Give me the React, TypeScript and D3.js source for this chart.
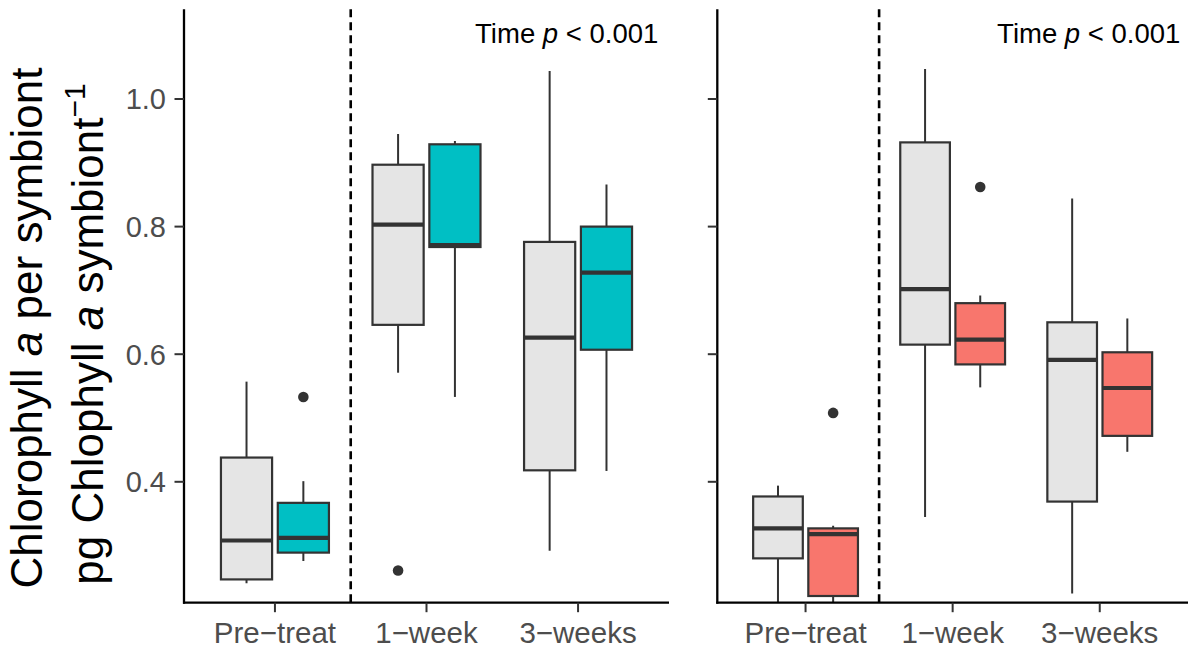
import React from "react";
import * as d3 from "d3";

// ---------- data ----------
const TIMES = ["Pre\u2212treat", "1\u2212week", "3\u2212weeks"];
const Y_TICKS = [0.4, 0.6, 0.8, 1.0];
const Y_DOMAIN = [0.2105, 1.1406];

// box statistics: lower whisker, q1, median, q3, upper whisker, outliers
const leftControl = [
  { lower: 0.241, q1: 0.247, median: 0.308, q3: 0.438, upper: 0.557, outliers: [] as number[] },
  { lower: 0.571, q1: 0.646, median: 0.803, q3: 0.897, upper: 0.945, outliers: [0.261] },
  { lower: 0.292, q1: 0.418, median: 0.626, q3: 0.776, upper: 1.044, outliers: [] as number[] },
];
const leftTreatment = [
  { lower: 0.276, q1: 0.289, median: 0.312, q3: 0.367, upper: 0.401, outliers: [0.533] },
  { lower: 0.533, q1: 0.768, median: 0.771, q3: 0.929, upper: 0.934, outliers: [] as number[] },
  { lower: 0.417, q1: 0.607, median: 0.728, q3: 0.800, upper: 0.866, outliers: [] as number[] },
];
const rightControl = [
  { lower: 0.195, q1: 0.280, median: 0.327, q3: 0.377, upper: 0.394, outliers: [] as number[] },
  { lower: 0.345, q1: 0.615, median: 0.702, q3: 0.932, upper: 1.047, outliers: [] as number[] },
  { lower: 0.225, q1: 0.369, median: 0.591, q3: 0.650, upper: 0.844, outliers: [] as number[] },
];
const rightTreatment = [
  { lower: 0.195, q1: 0.221, median: 0.318, q3: 0.327, upper: 0.331, outliers: [0.508] },
  { lower: 0.548, q1: 0.584, median: 0.623, q3: 0.680, upper: 0.692, outliers: [0.862] },
  { lower: 0.447, q1: 0.472, median: 0.547, q3: 0.603, upper: 0.656, outliers: [] as number[] },
];

// ---------- layout / style ----------
const W = 1189;
const H = 649;
const PLOT_TOP = 9.3;
const PLOT_BOTTOM = 602.7;
const FONT = "'Liberation Sans', Arial, Helvetica, sans-serif";
const CONTROL_FILL = "#E5E5E5";
const OUTLINE = "#333333";

const panels = [
  { id: "L", x0: 184, x1: 669, control: leftControl, treat: leftTreatment, fill: "#00BFC4", labels: true },
  { id: "R", x0: 717.3, x1: 1188, control: rightControl, treat: rightTreatment, fill: "#F8766D", labels: false },
];

const y = d3.scaleLinear().domain(Y_DOMAIN).range([PLOT_BOTTOM, PLOT_TOP]);

type Stat = { lower: number; q1: number; median: number; q3: number; upper: number; outliers: number[] };

function Box({ cx, w, s, fill }: { cx: number; w: number; s: Stat; fill: string }) {
  return (
    <g>
      <line x1={cx} x2={cx} y1={y(s.upper)} y2={y(s.q3)} stroke={OUTLINE} strokeWidth={2} />
      <line x1={cx} x2={cx} y1={y(s.q1)} y2={y(s.lower)} stroke={OUTLINE} strokeWidth={2} />
      <rect x={cx - w / 2} y={y(s.q3)} width={w} height={y(s.q1) - y(s.q3)} fill={fill} stroke={OUTLINE} strokeWidth={2.2} />
      <line x1={cx - w / 2} x2={cx + w / 2} y1={y(s.median)} y2={y(s.median)} stroke={OUTLINE} strokeWidth={4.2} />
      {s.outliers.map((o, i) => (
        <circle key={i} cx={cx} cy={y(o)} r={5.3} fill={OUTLINE} />
      ))}
    </g>
  );
}

function Panel({ p }: { p: (typeof panels)[number] }) {
  const x = d3.scalePoint<string>().domain(TIMES).range([p.x0, p.x1]).padding(0.6);
  const step = x.step();
  const boxW = 0.3375 * step;
  const off = 0.1875 * step;
  const divider = ((x(TIMES[0]) as number) + (x(TIMES[1]) as number)) / 2;
  const annX = (x(TIMES[0]) as number) + 1.925 * step;
  return (
    <g>
      <defs>
        <clipPath id={"clip" + p.id}>
          <rect x={p.x0} y={PLOT_TOP} width={p.x1 - p.x0} height={PLOT_BOTTOM - PLOT_TOP} />
        </clipPath>
      </defs>
      <g clipPath={`url(#clip${p.id})`}>
        {TIMES.map((t, i) => (
          <g key={t}>
            <Box cx={(x(t) as number) - off} w={boxW} s={p.control[i]} fill={CONTROL_FILL} />
            <Box cx={(x(t) as number) + off} w={boxW} s={p.treat[i]} fill={p.fill} />
          </g>
        ))}
      </g>
      <line x1={divider} x2={divider} y1={PLOT_TOP} y2={PLOT_BOTTOM} stroke="#000" strokeWidth={2.6} strokeDasharray="8,5" />
      {/* y axis */}
      <line x1={p.x0} x2={p.x0} y1={PLOT_TOP} y2={PLOT_BOTTOM + 1} stroke="#000" strokeWidth={2.3} />
      {Y_TICKS.map((t) => (
        <g key={t}>
          <line x1={p.x0 - 9.5} x2={p.x0} y1={y(t)} y2={y(t)} stroke={OUTLINE} strokeWidth={2} />
          {p.labels && (
            <text x={p.x0 - 18} y={y(t)} dy="0.36em" textAnchor="end" fontSize={29} fill="#4D4D4D" fontFamily={FONT}>
              {d3.format(".1f")(t)}
            </text>
          )}
        </g>
      ))}
      {/* x axis */}
      <line x1={p.x0 - 1} x2={p.x1} y1={PLOT_BOTTOM} y2={PLOT_BOTTOM} stroke="#000" strokeWidth={2.3} />
      {TIMES.map((t) => (
        <g key={t}>
          <line x1={x(t)} x2={x(t)} y1={PLOT_BOTTOM} y2={PLOT_BOTTOM + 9.5} stroke={OUTLINE} strokeWidth={2} />
          <text x={x(t)} y={643.3} textAnchor="middle" fontSize={29.5} fill="#4D4D4D" fontFamily={FONT}>
            {t}
          </text>
        </g>
      ))}
      <text x={annX} y={43.3} textAnchor="middle" fontSize={27.5} fill="#000" fontFamily={FONT}>
        Time <tspan fontStyle="italic">p</tspan> &lt; 0.001
      </text>
    </g>
  );
}

export default function App() {
  const cy = 328;
  return (
    <svg width={W} height={H} style={{ position: "absolute", left: 0, top: 0, background: "#fff" }}>
      <rect width={W} height={H} fill="#fff" />
      <text transform={`translate(42,${cy}) rotate(-90)`} textAnchor="middle" fontSize={44} fill="#000" fontFamily={FONT}>
        Chlorophyll <tspan fontStyle="italic">a</tspan> per symbiont
      </text>
      <text transform={`translate(103,${cy + 6}) rotate(-90)`} textAnchor="middle" fontSize={44} fill="#000" fontFamily={FONT}>
        pg Chlophyll <tspan fontStyle="italic">a</tspan> symbiont
        <tspan fontSize={30} dy={-18}>{"\u22121"}</tspan>
      </text>
      {panels.map((p) => (
        <Panel key={p.id} p={p} />
      ))}
    </svg>
  );
}
